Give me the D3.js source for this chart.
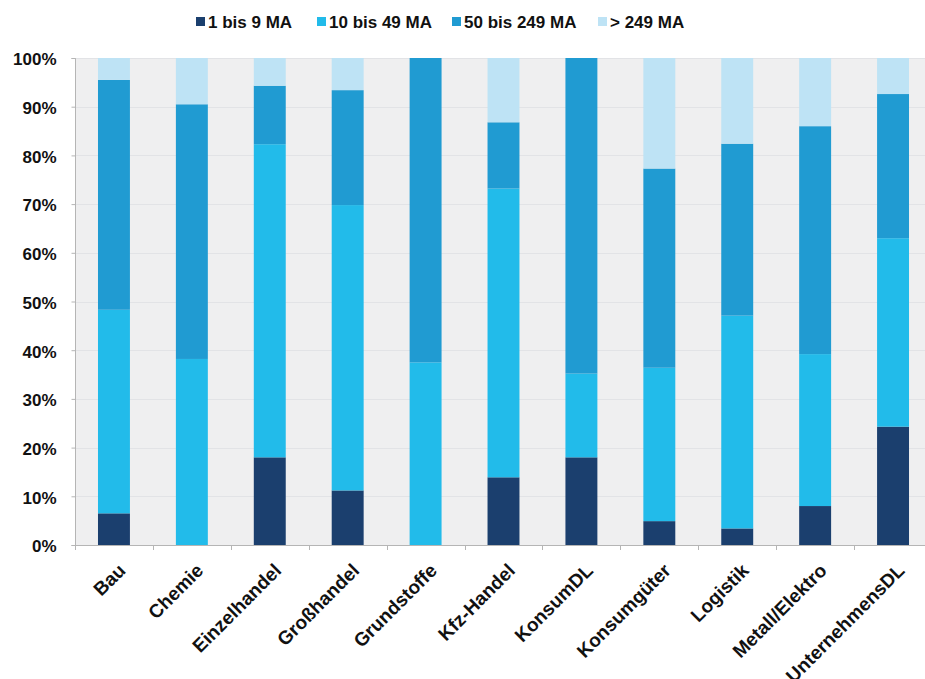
<!DOCTYPE html>
<html><head><meta charset="utf-8">
<script src="https://cdn.jsdelivr.net/npm/d3@7"></script>
<style>
html,body{margin:0;padding:0;background:#fff;overflow:hidden}
svg{display:block;font-family:"Liberation Sans",Arial,sans-serif}
</style></head>
<body>
<svg id="c" width="925" height="679"></svg>
<script>
const categories = ["Bau","Chemie","Einzelhandel","Großhandel","Grundstoffe","Kfz-Handel","KonsumDL","Konsumgüter","Logistik","Metall/Elektro","UnternehmensDL"];
const seriesNames = ["1 bis 9 MA","10 bis 49 MA","50 bis 249 MA","> 249 MA"];
const s1to9     = [6.5, 0.0, 18.0, 11.2, 0.0, 13.9, 18.0, 4.9, 3.4, 8.0, 24.3];
const s10to49   = [41.8, 38.2, 64.3, 58.6, 37.5, 59.3, 17.2, 31.5, 43.7, 31.2, 38.7];
const s50to249  = [47.2, 52.3, 12.0, 23.6, 62.5, 13.6, 64.8, 40.9, 35.3, 46.8, 29.6];
const s250plus  = [4.5, 9.5, 5.7, 6.6, 0.0, 13.2, 0.0, 22.7, 17.6, 14.0, 7.4];
const yTicks = [0,10,20,30,40,50,60,70,80,90,100];
const colors = ["#1b3f6e","#22bbea","#209bd2","#bee3f5"];

const svg = d3.select("#c");
const mLeft = 75, mRight = 932, mTop = 58, mBottom = 545;

const x = d3.scaleBand().domain(categories).range([mLeft, mRight]).paddingInner(0.59).paddingOuter(0.295);
const y = d3.scaleLinear().domain([0,100]).range([mBottom, mTop]);

// plot background
svg.append("rect").attr("x", mLeft).attr("y", mTop).attr("width", mRight-mLeft).attr("height", mBottom-mTop).attr("fill","#efeff0");

// gridlines
svg.append("g").selectAll("line").data(yTicks.filter(d=>d>0)).join("line")
  .attr("x1", mLeft).attr("x2", mRight).attr("y1", d=>Math.round(y(d))+0.5).attr("y2", d=>Math.round(y(d))+0.5)
  .attr("stroke","#e2e3e6").attr("stroke-width",1);

// stacked data
const rows = categories.map((c,i)=>({cat:c, a:s1to9[i], b:s10to49[i], c:s50to249[i], d:s250plus[i]}));
const stack = d3.stack().keys(["a","b","c","d"]);
const layers = stack(rows);

svg.append("g").selectAll("g").data(layers).join("g")
  .attr("fill",(d,i)=>colors[i])
  .selectAll("rect").data(d=>d).join("rect")
  .attr("x", d=>x(d.data.cat))
  .attr("width", x.bandwidth())
  .attr("y", d=>y(d[1]))
  .attr("height", d=>Math.max(0, y(d[0])-y(d[1])));

// y axis
const yAxis = d3.axisLeft(y).tickValues(yTicks).tickFormat(d=>d+"%").tickSize(4).tickPadding(15);
const gy = svg.append("g").attr("transform",`translate(${mLeft+0.5},0)`).call(yAxis);
gy.select(".domain").attr("stroke","#b5b5b5").attr("d",`M-4,${y(100)+0.5}H0V${mBottom+0.5}H-4`);
gy.selectAll(".tick line").attr("stroke","#b5b5b5");
gy.selectAll(".tick text").attr("font-size",17).attr("font-weight","bold").attr("fill","#111")
  .attr("dy","0.4em").attr("font-family","'Liberation Sans',Arial,sans-serif");

// x axis
svg.append("line").attr("x1",mLeft).attr("x2",mRight).attr("y1",mBottom+0.5).attr("y2",mBottom+0.5).attr("stroke","#b5b5b5");
const bounds = categories.map(c=>x(c)-x.step()*x.paddingInner()/2);
bounds.push(mRight);
svg.append("g").selectAll("line").data(bounds).join("line")
  .attr("x1",d=>Math.round(d)+0.5).attr("x2",d=>Math.round(d)+0.5)
  .attr("y1",mBottom).attr("y2",mBottom+5).attr("stroke","#b5b5b5");

svg.append("g").selectAll("text").data(categories).join("text")
  .attr("transform", d=>`translate(${x(d)+x.bandwidth()/2+8},${mBottom+22}) rotate(-45)`)
  .attr("text-anchor","end").attr("dy","0.35em")
  .attr("font-size",19).attr("font-weight","bold").attr("fill","#111")
  .text(d=>d);

// legend
const legX = [196, 317, 452, 598];
const lg = svg.append("g");
seriesNames.forEach((n,i)=>{
  lg.append("rect").attr("x",legX[i]).attr("y",17).attr("width",9).attr("height",9).attr("fill",colors[i]);
  lg.append("text").attr("x",legX[i]+12).attr("y",28).attr("font-size",17).attr("font-weight","bold").attr("fill","#111").text(n);
});
</script>
</body></html>
